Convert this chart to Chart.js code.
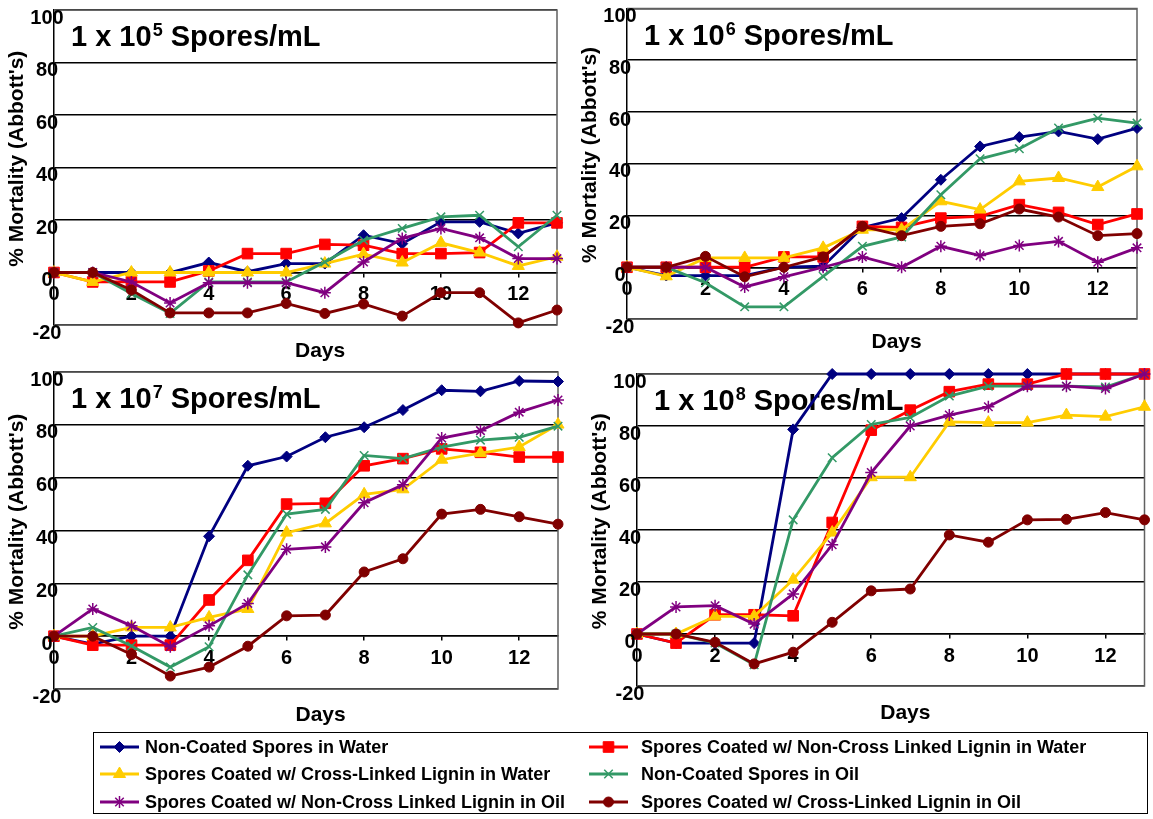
<!DOCTYPE html>
<html>
<head>
<meta charset="utf-8">
<title>Spore mortality by concentration</title>
<script src="https://cdn.jsdelivr.net/npm/chart.js@4.4.1/dist/chart.umd.min.js"></script>
<style>
  html, body { margin: 0; padding: 0; background: #fff; }
  body { width: 1153px; height: 819px; position: relative; overflow: hidden; }
  .panel { position: absolute; }
</style>
</head>
<body>
<div class="panel" style="left:0;top:0;width:576px;height:364px"><canvas id="c5"></canvas></div>
<div class="panel" style="left:573px;top:0;width:580px;height:355px"><canvas id="c6"></canvas></div>
<div class="panel" style="left:0;top:355px;width:576px;height:373px"><canvas id="c7"></canvas></div>
<div class="panel" style="left:583px;top:355px;width:570px;height:371px"><canvas id="c8"></canvas></div>
<div class="panel" style="left:0;top:725px;width:1153px;height:94px"><canvas id="cLegend"></canvas></div>
<script>
// days after treatment
const days = [0, 1, 2, 3, 4, 5, 6, 7, 8, 9, 10, 11, 12, 13];
const xTicks = [0, 2, 4, 6, 8, 10, 12];
const yTicks = [-20, 0, 20, 40, 60, 80, 100];

const seriesNames = [
  'Non-Coated Spores in Water',
  'Spores Coated w/ Non-Cross Linked Lignin in Water',
  'Spores Coated w/ Cross-Linked Lignin in Water',
  'Non-Coated Spores in Oil',
  'Spores Coated w/ Non-Cross Linked Lignin in Oil',
  'Spores Coated w/ Cross-Linked Lignin in Oil'
];
const seriesColors = ['#000080', '#FF0000', '#FFCC00', '#339966', '#800080', '#800000'];
const pointStyles = ['rectRot', 'rect', 'triangle', 'crossRot', 'star', 'circle'];
const pointRadii = [5.5, 7.5, 7, 6, 6, 5];
const pointBorders = [1, 1, 1, 1.5, 1.5, 1];

const panelExponents = ['5', '6', '7', '8'];

// 1 x 10^5 spores/mL
const bareWater5 = [0, 0, 0, 0, 3.8, 0.3, 3.4, 3.4, 14.2, 11, 19.3, 19.3, 14.9, 18.9];
const nclWater5  = [0, -3.6, -3.6, -3.6, 0.6, 7.2, 7.2, 10.7, 10.4, 7.2, 7.2, 7.6, 18.9, 18.9];
const clWater5   = [0, -3.6, 0, 0, 0, 0, 0, 3.4, 7, 3.8, 11.3, 7.6, 2.5, 6];
const bareOil5   = [0, 0, -8, -15.6, -3.6, -3.6, -3.6, 4, 12.3, 16.8, 21.2, 21.8, 9.8, 21.8];
const nclOil5    = [0, 0, -3.6, -11.6, -3.9, -3.9, -3.9, -7.7, 4, 13, 16.8, 13.2, 5.3, 5.3];
const clOil5     = [0, 0, -6.7, -15.4, -15.4, -15.4, -11.8, -15.6, -12, -16.6, -7.7, -7.7, -19.2, -14.3];

// 1 x 10^6 spores/mL
const bareWater6 = [0, -3.2, -3.2, -3.2, 0, 0.4, 15.4, 19, 33.8, 46.7, 50.3, 52.5, 49.5, 53.8];
const nclWater6  = [0, 0, 0, 0, 4, 4, 15.8, 15.4, 19, 19.7, 24.2, 21.2, 16.5, 20.6];
const clWater6   = [0, -3.5, 3.6, 3.6, 3.6, 7.5, 14.5, 14.5, 25.5, 22.3, 33.2, 34.5, 31, 39];
const bareOil6   = [0, 0, -6, -15.3, -15.3, -3.5, 8.1, 11.7, 28, 41.9, 45.8, 53.8, 57.6, 55.7];
const nclOil6    = [0, 0, 0, -7.6, -3.7, 0, 4, 0, 8.1, 4.5, 8.4, 10, 1.9, 7.5];
const clOil6     = [0, 0, 4.2, -3.7, 0, 4, 15.8, 12.2, 15.8, 16.8, 22.5, 19.4, 12.2, 13];

// 1 x 10^7 spores/mL
const bareWater7 = [0, -3, 0, 0, 37.8, 64.5, 68, 75.3, 79.1, 85.6, 93.1, 92.7, 96.6, 96.4];
const nclWater7  = [0, -3.4, -3.4, -3.4, 13.7, 28.7, 50, 50.3, 64.5, 67.2, 70.9, 69.6, 67.8, 67.8];
const clWater7   = [0, 0, 3.3, 3.3, 7.1, 10.3, 39.2, 42.7, 53.7, 55.6, 66.8, 69.3, 71.6, 80.1];
const bareOil7   = [0, 3.3, -3.7, -11.7, -4, 23.2, 46.2, 48, 68.4, 67.2, 71.6, 74.2, 75.3, 79.5];
const nclOil7    = [0, 10.3, 3.9, -4, 3.9, 12.4, 32.9, 33.8, 50.5, 57.3, 75, 77.8, 84.8, 89.4];
const clOil7     = [0, 0, -6.9, -15.1, -11.7, -3.8, 7.7, 8, 24.3, 29.3, 46.2, 48, 45.2, 42.4];

// 1 x 10^8 spores/mL
const bareWater8 = [0, -3.5, -3.5, -3.5, 78.7, 100, 100, 100, 100, 100, 100, 100, 100, 100];
const nclWater8  = [0, -3.5, 7.4, 7.4, 7, 42.9, 78.4, 86.1, 93.2, 96.1, 96.1, 100, 100, 100];
const clWater8   = [0, 0, 6.8, 6.8, 20.9, 39, 60.3, 60.3, 81.6, 81.3, 81.3, 84.2, 83.6, 87.4];
const bareOil8   = [0, 0, -3.5, -11.8, 43.9, 67.8, 80.6, 83.3, 91.5, 95.3, 95.3, 95.3, 95, 100];
const nclOil8    = [0, 10.4, 10.9, 3.8, 15.4, 34.3, 62.1, 80, 84.2, 87.4, 95.3, 95.3, 94.4, 100];
const clOil8     = [0, 0, -3.2, -11.5, -7, 4.5, 16.6, 17.3, 38.1, 35.3, 43.9, 44.1, 46.7, 43.9];

const FONT = '"Liberation Sans", Arial, sans-serif';
const tickFont = { family: FONT, size: 20, weight: 'bold' };
const axisTitleFont = { family: FONT, size: 21, weight: 'bold' };

// grey frame on top / right / bottom of the plot
const framePlugin = {
  id: 'frame',
  beforeDatasetsDraw(chart) {
    const { ctx, chartArea: a } = chart;
    ctx.save();
    ctx.strokeStyle = '#606060';
    ctx.lineWidth = 1.5;
    ctx.beginPath();
    ctx.moveTo(a.left, a.top);
    ctx.lineTo(a.right, a.top);
    ctx.lineTo(a.right, a.bottom);
    ctx.lineTo(a.left, a.bottom);
    ctx.stroke();
    ctx.restore();
  },
  // y tick labels sit across the axis line, so draw them unclipped
  afterDraw(chart) {
    const { ctx, chartArea: a } = chart;
    const yScale = chart.scales.y;
    ctx.save();
    ctx.fillStyle = '#000';
    ctx.font = 'bold 20px ' + FONT;
    ctx.textAlign = 'center';
    ctx.textBaseline = 'middle';
    yScale.ticks.forEach(t => {
      ctx.fillText(String(t.value), a.left - 7, yScale.getPixelForValue(t.value) + 8);
    });
    ctx.restore();
  }
};

// "1 x 10^n Spores/mL" label inside the plot
const panelLabel = {
  id: 'panelLabel',
  beforeDatasetsDraw(chart, args, opts) {
    if (!opts || !opts.exp) return;
    const { ctx, chartArea: a } = chart;
    let x = a.left + 17;
    const y = a.top + 36;
    ctx.save();
    ctx.fillStyle = '#000';
    ctx.textAlign = 'left';
    ctx.textBaseline = 'alphabetic';
    ctx.font = 'bold 29px ' + FONT;
    ctx.fillText('1 x 10', x, y);
    x += ctx.measureText('1 x 10').width + 1;
    ctx.font = 'bold 18px ' + FONT;
    ctx.fillText(opts.exp, x, y - 10);
    x += ctx.measureText(opts.exp).width;
    ctx.font = 'bold 29px ' + FONT;
    ctx.fillText(' Spores/mL', x, y);
    ctx.restore();
  }
};

function makeSets(list) {
  return list.map((vals, i) => ({
    label: seriesNames[i],
    data: vals.map((v, k) => ({ x: days[k], y: v })),
    borderColor: seriesColors[i],
    backgroundColor: seriesColors[i],
    pointBackgroundColor: seriesColors[i],
    pointBorderColor: seriesColors[i],
    pointStyle: pointStyles[i],
    pointRadius: pointRadii[i],
    pointBorderWidth: pointBorders[i],
    borderWidth: 2.8,
    tension: 0,
    clip: false,
    order: list.length - i
  }));
}

function makePanel(id, exp, sets, layoutPad, bottomHeight) {
  return new Chart(document.getElementById(id), {
    type: 'line',
    data: { datasets: makeSets(sets) },
    options: {
      responsive: true,
      maintainAspectRatio: false,
      animation: false,
      events: [],
      layout: { padding: layoutPad },
      plugins: {
        legend: { display: false },
        tooltip: { enabled: false },
        panelLabel: { exp: exp }
      },
      scales: {
        x: {
          type: 'linear',
          min: days[0],
          max: days[days.length - 1],
          position: { y: 0 },
          afterBuildTicks: s => { s.ticks = xTicks.map(v => ({ value: v })); },
          ticks: { font: tickFont, color: '#000', padding: 6, maxRotation: 0 },
          grid: { drawOnChartArea: false, drawTicks: true, tickLength: 4, color: '#000', lineWidth: 1.5 },
          border: { color: '#000', width: 1.5 }
        },
        x2: {
          type: 'linear',
          axis: 'x',
          display: true,
          position: 'bottom',
          min: days[0],
          max: days[days.length - 1],
          afterFit: s => { s.height = bottomHeight; },
          ticks: { display: false },
          grid: { display: false },
          border: { display: false },
          title: { display: true, text: '     Days', font: axisTitleFont, color: '#000', padding: 0 }
        },
        y: {
          min: yTicks[0],
          max: yTicks[yTicks.length - 1],
          afterFit: s => { s.width = 54; },
          afterBuildTicks: s => { s.ticks = yTicks.map(v => ({ value: v })); },
          ticks: { display: false },
          grid: { color: '#000', lineWidth: 1.5, drawTicks: false },
          border: { color: '#000', width: 1.5 },
          title: {
            display: true,
            text: "   % Mortality (Abbott's)",
            font: axisTitleFont,
            color: '#000',
            padding: { top: 5, bottom: 0 }
          }
        }
      }
    },
    plugins: [framePlugin, panelLabel]
  });
}

makePanel('c5', panelExponents[0],
  [bareWater5, nclWater5, clWater5, bareOil5, nclOil5, clOil5],
  { left: 0, top: 10, right: 19, bottom: 0 }, 39);
makePanel('c6', panelExponents[1],
  [bareWater6, nclWater6, clWater6, bareOil6, nclOil6, clOil6],
  { left: 0, top: 7, right: 16, bottom: 0 }, 36);
makePanel('c7', panelExponents[2],
  [bareWater7, nclWater7, clWater7, bareOil7, nclOil7, clOil7],
  { left: 0, top: 17, right: 18, bottom: 0 }, 39);
makePanel('c8', panelExponents[3],
  [bareWater8, nclWater8, clWater8, bareOil8, nclOil8, clOil8],
  { left: 0, top: 19, right: 6, bottom: 0 }, 40);

// shared legend, two columns in a box
const legendBox = {
  id: 'legendBox',
  afterDraw(chart) {
    const ctx = chart.ctx;
    const rowY = [22, 49, 77];
    const lineX = [[100, 139], [589, 628]];
    const textX = [145, 641];
    ctx.save();
    ctx.strokeStyle = '#000';
    ctx.lineWidth = 1;
    ctx.strokeRect(93.5, 7.5, 1054, 81);
    chart.data.datasets.forEach((ds, i) => {
      const col = i % 2, row = Math.floor(i / 2);
      const y = rowY[row];
      const [x0, x1] = lineX[col];
      ctx.strokeStyle = ds.borderColor;
      ctx.lineWidth = ds.borderWidth;
      ctx.beginPath();
      ctx.moveTo(x0, y);
      ctx.lineTo(x1, y);
      ctx.stroke();
      ctx.fillStyle = ds.pointBackgroundColor;
      ctx.strokeStyle = ds.pointBorderColor;
      ctx.lineWidth = ds.pointBorderWidth;
      Chart.helpers.drawPoint(ctx, {
        pointStyle: ds.pointStyle,
        radius: ds.pointRadius,
        borderWidth: ds.pointBorderWidth,
        rotation: 0
      }, (x0 + x1) / 2, y);
      ctx.fillStyle = '#000';
      ctx.font = 'bold 18px ' + FONT;
      ctx.textAlign = 'left';
      ctx.textBaseline = 'middle';
      ctx.fillText(ds.label, textX[col], y + 1);
    });
    ctx.restore();
  }
};

new Chart(document.getElementById('cLegend'), {
  type: 'line',
  data: { datasets: makeSets(seriesNames.map(() => [])) },
  options: {
    responsive: true,
    maintainAspectRatio: false,
    animation: false,
    events: [],
    plugins: { legend: { display: false }, tooltip: { enabled: false } },
    scales: { x: { display: false }, y: { display: false } }
  },
  plugins: [legendBox]
});
</script>
</body>
</html>
